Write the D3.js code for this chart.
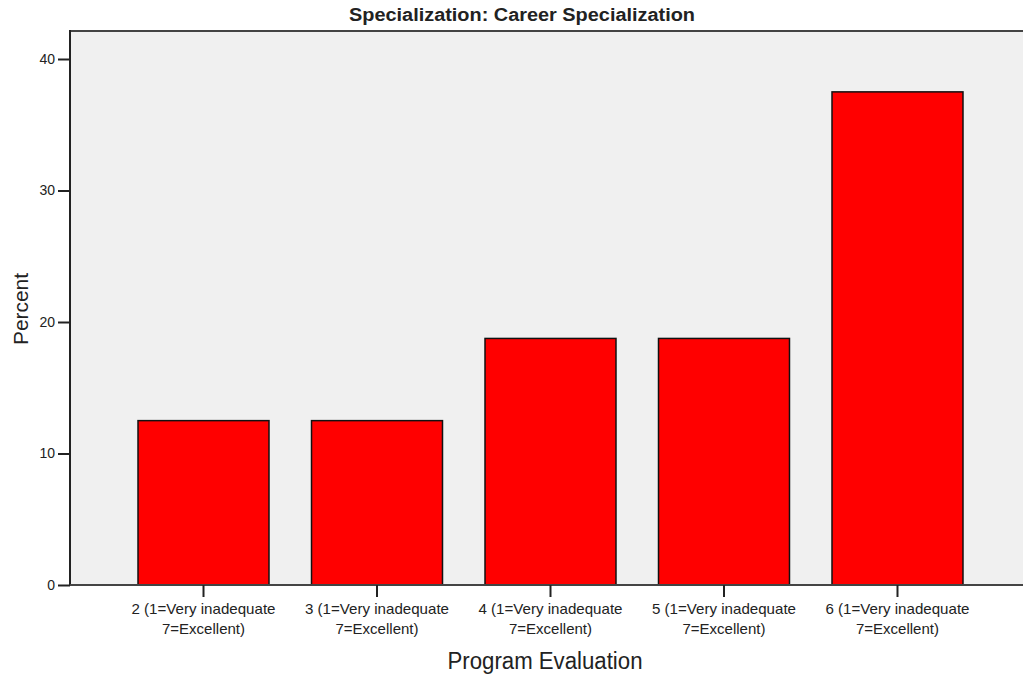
<!DOCTYPE html>
<html>
<head>
<meta charset="utf-8">
<script src="https://cdn.jsdelivr.net/npm/d3@7"></script>
<style>
  body { margin: 0; background: #fff; }
  svg text { font-family: "Liberation Sans Narrow", "Arial Narrow", "Liberation Sans", sans-serif; fill: #222; }
</style>
</head>
<body>
<svg id="chart" width="1023" height="679"></svg>
<script>
  // data
  var categories = ['2', '3', '4', '5', '6'];
  var labelLine1 = ['2 (1=Very inadequate', '3 (1=Very inadequate', '4 (1=Very inadequate',
                    '5 (1=Very inadequate', '6 (1=Very inadequate'];
  var labelLine2 = ['7=Excellent)', '7=Excellent)', '7=Excellent)', '7=Excellent)', '7=Excellent)'];
  var percents = [12.5, 12.5, 18.75, 18.75, 37.5];
  var yTicks = [0, 10, 20, 30, 40];

  var plotLeft = 70, plotTop = 31, plotBottom = 585, plotRight = 1023;
  var svg = d3.select('#chart');

  var x = d3.scaleBand().domain(categories).range([plotLeft, 1031])
    .paddingInner(0.245).paddingOuter(0.392);
  var y = d3.scaleLinear().domain([0, 40]).range([plotBottom, 59]);

  svg.append('rect')
    .attr('x', plotLeft).attr('y', plotTop)
    .attr('width', plotRight - plotLeft).attr('height', plotBottom - plotTop)
    .attr('fill', '#f0f0f0');

  svg.append('g').selectAll('rect').data(percents)
    .enter().append('rect')
      .attr('x', (d, i) => x(categories[i]))
      .attr('y', (d) => y(d))
      .attr('width', x.bandwidth())
      .attr('height', (d) => plotBottom - y(d))
      .attr('fill', '#ff0000')
      .attr('stroke', '#111')
      .attr('stroke-width', 1.5);

  // top border of the plot frame
  svg.append('line').attr('x1', plotLeft).attr('x2', plotRight).attr('y1', plotTop).attr('y2', plotTop)
    .attr('stroke', '#444').attr('stroke-width', 2);

  var yAxis = svg.append('g').attr('transform', 'translate(' + plotLeft + ',0)')
    .call(d3.axisLeft(y).tickValues(yTicks).tickSize(12).tickPadding(3));
  yAxis.select('.domain').attr('d', 'M0,' + (plotTop - 1) + 'V' + plotBottom).attr('stroke', '#222').attr('stroke-width', 2);
  yAxis.selectAll('.tick line').attr('stroke', '#222').attr('stroke-width', 2);
  yAxis.selectAll('.tick text').attr('font-size', 14).style('font-family', null);

  var xAxis = svg.append('g').attr('transform', 'translate(0,' + plotBottom + ')')
    .call(d3.axisBottom(x).tickSize(12).tickFormat(''));
  xAxis.select('.domain').attr('d', 'M' + plotLeft + ',0H' + plotRight).attr('stroke', '#444').attr('stroke-width', 2);
  xAxis.selectAll('.tick line').attr('stroke', '#222').attr('stroke-width', 2);
  xAxis.selectAll('.tick text').remove();

  var lbl = svg.append('g').selectAll('text').data(categories)
    .enter().append('text')
      .attr('x', (d) => x(d) + x.bandwidth() / 2)
      .attr('y', plotBottom + 29)
      .attr('text-anchor', 'middle')
      .attr('font-size', 15);
  lbl.append('tspan').attr('textLength', 144).attr('lengthAdjust', 'spacingAndGlyphs')
    .text((d, i) => labelLine1[i]);
  lbl.append('tspan').attr('x', (d) => x(d) + x.bandwidth() / 2).attr('dy', 20)
    .attr('textLength', 83).attr('lengthAdjust', 'spacingAndGlyphs')
    .text((d, i) => labelLine2[i]);

  svg.append('text').attr('x', 522).attr('y', 21).attr('text-anchor', 'middle')
    .attr('font-size', 18).attr('font-weight', 'bold')
    .attr('textLength', 346).attr('lengthAdjust', 'spacingAndGlyphs')
    .text('Specialization: Career Specialization');

  svg.append('text').attr('x', 545).attr('y', 669).attr('text-anchor', 'middle')
    .attr('font-size', 23)
    .attr('textLength', 195).attr('lengthAdjust', 'spacingAndGlyphs')
    .text('Program Evaluation');

  svg.append('text').attr('transform', 'translate(28,309) rotate(-90)')
    .attr('text-anchor', 'middle').attr('font-size', 21)
    .attr('textLength', 72).attr('lengthAdjust', 'spacingAndGlyphs')
    .text('Percent');
</script>
</body>
</html>
